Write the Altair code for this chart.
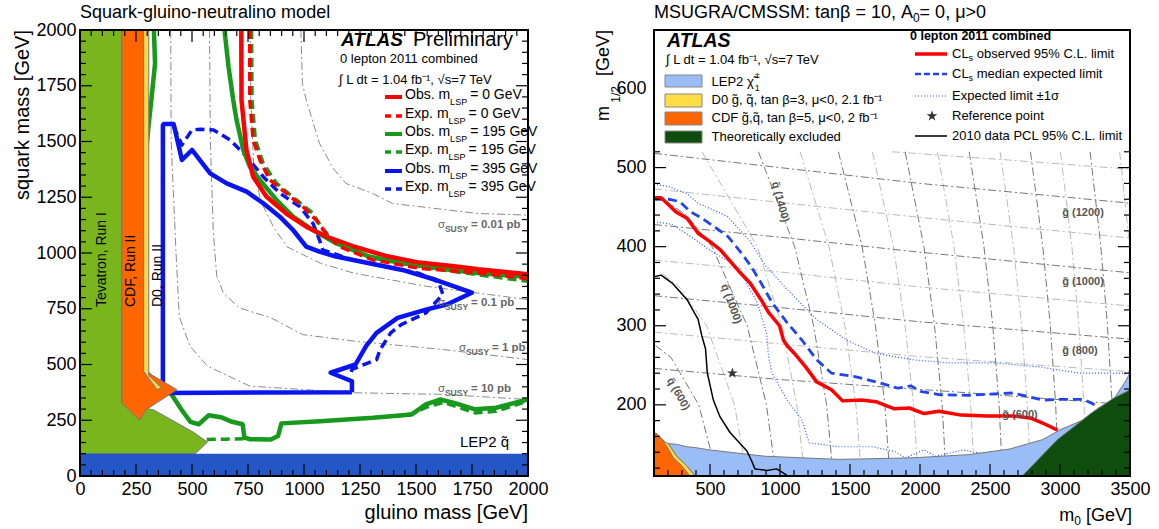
import altair as alt
import pandas as pd

FONT = "Liberation Sans"

# Arial / Liberation Sans advance widths (1/1000 em), used to place sub/superscripts
_ADV = {" ": 278, ".": 278, ",": 278, "-": 333, "/": 278, ":": 278, "=": 584, "[": 278, "]": 278,
        "%": 889, "<": 584, ">": 584, "±": 584,
        "A": 667, "C": 722, "D": 722, "E": 667, "F": 611, "G": 778, "L": 556, "M": 833, "O": 778,
        "P": 667, "R": 722, "S": 667, "T": 611, "U": 722, "V": 667, "Y": 667,
        "a": 556, "b": 556, "c": 500, "d": 556, "e": 556, "f": 278, "g": 556, "h": 556, "i": 222,
        "k": 500, "l": 222, "m": 833, "n": 556, "o": 556, "p": 556, "q": 556, "r": 333, "s": 500,
        "t": 278, "u": 556, "v": 500, "x": 500, "y": 500, "z": 500,
        "β": 575, "μ": 576, "χ": 525, "σ": 600, "\u0303": 0}


def tw(s, size):
    return sum(_ADV.get(c, 556) for c in s) * size / 1000.0


# ---------------------------------------------------------------- colours
RED, GREEN, BLUE = "#ff0000", "#16991c", "#0a14f0"
TEV_GREEN, CDF_ORANGE, D0_YELLOW, LEP_BAND = "#79b61d", "#ff6600", "#ffd84a", "#2456c6"
LEP_LIGHT, TH_GREEN = "#9abcf7", "#0e4d0e"
GRAY_DARK, GRAY_LIGHT = "#777777", "#bbbbbb"

# ================================================================ left panel data
# squark-gluino plane: x = gluino mass, y = squark mass (GeV)
red_obs_x = [720, 721, 743, 773, 832, 921, 1010, 1099, 1217, 1365, 1513, 1660, 1778, 1900, 2000]
red_obs_y = [2000, 1686, 1462, 1342, 1253, 1177, 1118, 1074, 1031, 987, 957, 942, 927, 915, 905]
red_exp_x = [758, 758, 773, 803, 847, 921, 995, 1054, 1099, 1158, 1306, 1513, 1778, 2000]
red_exp_y = [2000, 1686, 1507, 1417, 1328, 1268, 1208, 1148, 1089, 1029, 969, 932, 910, 885]

grn_obs_hi_x = [645, 663, 684, 699, 729, 758, 803, 877, 951, 1040, 1143, 1291, 1439, 1660, 1778, 2000]
grn_obs_hi_y = [2000, 1835, 1686, 1596, 1462, 1387, 1328, 1238, 1163, 1103, 1044, 984, 954, 924, 910, 893]
grn_exp_hi_x = [766, 768, 783, 818, 877, 966, 1040, 1084, 1143, 1306, 1513, 1778, 2000]
grn_exp_hi_y = [2000, 1686, 1507, 1402, 1313, 1238, 1178, 1104, 1044, 977, 939, 902, 873]
grn_obs_lo_x = [330, 335, 320, 305, 290, 290, 300, 314, 366, 411, 455, 493, 530, 574, 634, 679, 726,
                734, 760, 852, 884, 899, 1072, 1308, 1481, 1544, 1607, 1670, 1764, 1858, 2000]
grn_obs_lo_y = [2000, 1850, 1700, 1560, 1400, 500, 460, 446, 414, 362, 295, 243, 232, 272, 262, 243, 232,
                172, 165, 164, 179, 236, 246, 261, 276, 321, 343, 328, 299, 306, 343]
grn_exp_lo1_x = [566, 650, 734]
grn_exp_lo1_y = [164, 165, 167]
grn_exp_lo2_x = [1400, 1481, 1544, 1623, 1700, 1764, 1858, 2000]
grn_exp_lo2_y = [268, 278, 308, 330, 305, 283, 290, 336]

blu_obs_x = [1214, 800, 370, 370, 374, 418, 455, 500, 581, 655, 744, 818, 892, 951, 1010, 1069, 1143,
             1291, 1439, 1587, 1749, 1638, 1544, 1418, 1324, 1277, 1230, 1119, 1214, 1214]
blu_obs_y = [376, 374, 372, 1573, 1579, 1579, 1417, 1462, 1357, 1312, 1275, 1223, 1163, 1103, 1029, 1006, 984,
             954, 924, 880, 822, 769, 746, 709, 642, 582, 500, 463, 425, 376]
blu_exp_x = [418, 455, 500, 537, 596, 670, 744, 818, 892, 981, 1040, 1069, 1084, 1129, 1217, 1365, 1513,
             1600, 1620, 1544, 1434, 1387, 1340, 1324, 1214, 1206]
blu_exp_y = [1567, 1484, 1552, 1555, 1552, 1507, 1432, 1342, 1268, 1208, 1133, 1059, 1014, 999, 969, 939, 909,
             870, 815, 731, 679, 642, 567, 522, 478, 448]

# cross-section iso-lines
sig001_x = [986, 993, 1010, 1069, 1130, 1187, 1306, 1395, 1778, 2000]
sig001_y = [2000, 1760, 1686, 1492, 1380, 1312, 1267, 1222, 1177, 1170]
sig01_x = [760, 762, 775, 805, 863, 924, 1073, 1221, 1544, 2000]
sig01_y = [2000, 1700, 1400, 1238, 1118, 1028, 954, 910, 851, 791]
sig1_x = [578, 582, 595, 610, 640, 711, 853, 994, 1230, 1623, 2000]
sig1_y = [2000, 1500, 1100, 900, 820, 754, 709, 634, 604, 567, 522]
sig10_x = [405, 407, 428, 443, 491, 569, 758, 1230, 1623, 2000]
sig10_y = [2000, 1500, 1015, 716, 582, 493, 403, 373, 366, 343]

# excluded regions from earlier experiments (edges given as functions of squark mass)
lep_sq_x = [0, 2000]
lep_sq_y = [0, 100]
tev1_y = [100, 152, 197, 296, 327, 2000]
tev1_xl = [0, 0, 0, 0, 0, 0]
tev1_xr = [515, 569, 505, 330, 185, 185]
cdf_y = [250, 298, 327, 387, 473, 2000]
cdf_xl = [266, 217, 187, 187, 187, 187]
cdf_xr = [266, 296, 341, 433, 285, 285]
d0_y = [387, 396, 451, 470, 2000]
d0_xl = [344, 338, 298, 284, 284]
d0_xr = [344, 363, 307, 307, 307]

# ================================================================ right panel data
# mSUGRA plane: x = m0, y = m1/2 (GeV)
r_red_x = [100, 151, 204, 257, 336, 415, 495, 574, 706, 786, 865, 918, 997, 1024, 1050, 1103, 1183, 1262,
           1368, 1447, 1580, 1685, 1818, 1923, 2029, 2135, 2294, 2479, 2664, 2797, 2876, 2982]
r_red_y = [462, 462, 453, 444, 436, 417, 407, 396, 369, 354, 333, 317, 300, 282, 275, 265, 248, 229,
           219, 205, 206, 204, 195, 196, 189, 192, 187, 186, 186, 183, 177, 168]
r_exp_x = [100, 204, 283, 362, 442, 548, 627, 706, 786, 865, 944, 1050, 1156, 1262, 1368, 1527, 1685, 1844,
           1937, 2003, 2135, 2347, 2664, 2876, 3008, 3167, 3247]
r_exp_y = [460, 460, 457, 444, 436, 423, 413, 396, 377, 354, 329, 304, 282, 257, 240, 236, 229, 221,
           224, 217, 213, 212, 215, 206, 207, 207, 200]
r_up_x = [100, 204, 336, 415, 627, 786, 892, 1050, 1262, 1474, 1685, 1950, 2215, 2532, 2849, 3141, 3458, 3500]
r_up_y = [479, 476, 467, 455, 438, 407, 377, 346, 308, 282, 265, 257, 253, 253, 248, 240, 240, 240]
r_dn_x = [100, 230, 362, 495, 627, 733, 839, 905, 918, 944, 1050, 1156, 1209, 1421, 1659, 1818, 1897, 2029,
          2110, 2308, 2481]
r_dn_y = [432, 428, 413, 396, 382, 363, 329, 290, 261, 240, 206, 181, 152, 147, 147, 141, 133, 143,
          135, 143, 137]
r_pcl_x = [100, 151, 230, 336, 415, 442, 468, 481, 524, 571, 643, 762, 798, 821, 905, 976, 1048]
r_pcl_y = [362, 364, 354, 333, 308, 287, 271, 240, 206, 185, 165, 142, 129, 119, 117, 119, 111]
ref_point_x = [660]
ref_point_y = [240]

r_cdf_x = [100, 125, 155, 190, 238, 298, 357]
r_cdf_y = [165, 163, 157, 148, 133, 123, 110]
r_d0_x = [150, 180, 202, 262, 333, 393]
r_d0_y = [158, 153, 151, 135, 123, 110]
r_lep_x = [202, 262, 333, 393, 495, 892, 1421, 1950, 2347, 2638, 2876, 3008, 3167, 3273, 3379, 3458, 3500]
r_lep_top = [151, 150, 147, 146, 143, 135, 131, 133, 137, 144, 156, 169, 181, 196, 206, 227, 240]
r_lep_bot = [151, 135, 123, 110, 110, 110, 110, 110, 110, 110, 110, 110, 110, 110, 110, 110, 110]
r_th_x = [2730, 2982, 3220, 3379, 3500]
r_th_y = [110, 156, 189, 208, 219]

# gluino iso-mass lines (labelled ones dark)
gl_dark = {
    "600": ([100, 1000, 2200, 3500], [246, 232, 217, 200]),
    "800": ([100, 1000, 2000, 3500], [338, 323, 305, 283]),
    "1000": ([100, 1000, 2000, 3500], [428, 412, 393, 367]),
    "1200": ([100, 1000, 2000, 3500], [518, 500, 480, 455]),
}
gl_light = {
    "700": ([100, 1000, 2000, 3500], [292, 277, 261, 242]),
    "900": ([100, 1000, 2000, 3500], [383, 368, 349, 325]),
    "1100": ([100, 1000, 2000, 3500], [473, 456, 437, 411]),
    "1300": ([1800, 2600, 3500], [520, 510, 498]),
}
# squark iso-mass lines
sq_y = [520, 400, 300, 200, 110]
sq_dark = {
    "600": ([110, 221, 420, 552], [275, 260, 200, 110]),
    "1000": ([163, 331, 514, 766, 903, 972], [460, 440, 400, 300, 200, 110]),
    "1400": ([846, 1105, 1240, 1333, 1380], sq_y),
    "1800": ([1417, 1587, 1682, 1749, 1785], sq_y),
    "2200": ([1894, 2028, 2104, 2158, 2187], sq_y),
    "2600": ([2351, 2457, 2520, 2565, 2589], sq_y),
    "3000": ([2789, 2877, 2931, 2969, 2991], sq_y),
    "3400": ([3215, 3292, 3339, 3373, 3392], sq_y),
}
sq_light = {
    "800": ([165, 277, 476, 675, 764], [365, 350, 300, 200, 110]),
    "1200": ([443, 839, 1013, 1120, 1177], sq_y),
    "1600": ([1143, 1350, 1463, 1542, 1583], sq_y),
    "2000": ([1660, 1810, 1894, 1954, 1986], sq_y),
    "2400": ([2125, 2243, 2312, 2362, 2388], sq_y),
    "2800": ([2572, 2668, 2726, 2767, 2790], sq_y),
    "3200": ([3003, 3085, 3135, 3171, 3191], sq_y),
    "3600": ([3426, 3498, 3542, 3574, 3592], sq_y),
}

# ================================================================ helpers
ONE = pd.DataFrame({"k": [0]})
DASHDOT = [8, 3, 2, 3]


def curve(xs, ys, X, Y, color, width, dash=None):
    df = pd.DataFrame({"x": xs, "y": ys, "i": list(range(len(xs)))})
    kw = dict(color=color, strokeWidth=width, clip=True, strokeJoin="round")
    if dash:
        kw["strokeDash"] = dash
    return alt.Chart(df).mark_line(**kw).encode(x=X, y=Y, order=alt.Order("i:Q"))


def hband(ys, xl, xr, X, Y, color):
    # horizontal area: y is the running coordinate, x..x2 the filled span
    df = pd.DataFrame({"y": ys, "x": xl, "x2": xr})
    return alt.Chart(df).mark_area(orient="horizontal", color=color, stroke="#777777", strokeWidth=1,
                                   clip=True).encode(y=Y, x=X, x2=alt.X2("x2:Q"))


def vband(xs, ytop, ybot, X, Y, color):
    df = pd.DataFrame({"x": xs, "y": ytop, "y2": ybot})
    return alt.Chart(df).mark_area(color=color, stroke="#777777", strokeWidth=1,
                                   clip=True).encode(x=X, y=Y, y2=alt.Y2("y2:Q"))


def label(s, x, y, size=13, color="black", weight="normal", style="normal", align="left",
          baseline="middle", angle=0):
    return alt.Chart(ONE).mark_text(text=s, font=FONT, fontSize=size, color=color, fontWeight=weight,
                                    fontStyle=style, align=align, baseline=baseline, angle=angle
                                    ).encode(x=alt.value(x), y=alt.value(y))


def sample(x1, x2, y, color, width, dash=None):
    kw = dict(color=color, strokeWidth=width)
    if dash:
        kw["strokeDash"] = dash
    return alt.Chart(ONE).mark_rule(**kw).encode(x=alt.value(x1), x2=alt.value(x2), y=alt.value(y))


def box(x1, x2, y1, y2, fill):
    return alt.Chart(ONE).mark_rect(fill=fill, stroke="#888888", strokeWidth=1).encode(
        x=alt.value(x1), x2=alt.value(x2), y=alt.value(y1), y2=alt.value(y2))


def frame(W, H):
    return alt.Chart(ONE).mark_rect(fill="transparent", stroke="black", strokeWidth=2).encode(
        x=alt.value(0), x2=alt.value(W), y=alt.value(0), y2=alt.value(H))


def ticks(X, Y, W, H, xmaj, xmin, ymaj, ymin, top=True):
    out = []
    for vals, L in ((xmaj, 12), (xmin, 6)):
        d = pd.DataFrame({"x": vals})
        out.append(alt.Chart(d).mark_rule(color="black", strokeWidth=1.2).encode(
            x=X, y=alt.value(H), y2=alt.value(H - L)))
        if top:
            out.append(alt.Chart(d).mark_rule(color="black", strokeWidth=1.2).encode(
                x=X, y=alt.value(0), y2=alt.value(L)))
    for vals, L in ((ymaj, 12), (ymin, 6)):
        d = pd.DataFrame({"y": vals})
        out.append(alt.Chart(d).mark_rule(color="black", strokeWidth=1.2).encode(
            y=Y, x=alt.value(0), x2=alt.value(L)))
        out.append(alt.Chart(d).mark_rule(color="black", strokeWidth=1.2).encode(
            y=Y, x=alt.value(W), x2=alt.value(W - L)))
    return out


AXIS = dict(title=None, ticks=False, domain=False, grid=False, labelFont=FONT, labelFontSize=18,
            labelColor="black", labelFlush=False, labelOverlap=False, format="d")

# ================================================================ left panel
LW, LH = 448, 446
LX = alt.X("x:Q", scale=alt.Scale(domain=[0, 2000], nice=False, zero=False),
           axis=alt.Axis(values=list(range(0, 2001, 250)), labelPadding=4, **AXIS))
LY = alt.Y("y:Q", scale=alt.Scale(domain=[0, 2000], nice=False, zero=False),
           axis=alt.Axis(values=list(range(0, 2001, 250)), labelPadding=4, **AXIS))

L = []
for xs, ys in ((sig001_x, sig001_y), (sig01_x, sig01_y), (sig1_x, sig1_y), (sig10_x, sig10_y)):
    L.append(curve(xs, ys, LX, LY, "#8a8a8a", 1, DASHDOT))
L += [
    curve(grn_obs_lo_x, grn_obs_lo_y, LX, LY, GREEN, 4.5),
    curve(grn_exp_lo1_x, grn_exp_lo1_y, LX, LY, GREEN, 3.5, [9, 5]),
    curve(grn_exp_lo2_x, grn_exp_lo2_y, LX, LY, GREEN, 3.5, [9, 5]),
    curve(blu_obs_x, blu_obs_y, LX, LY, BLUE, 4.5),
    curve(blu_exp_x, blu_exp_y, LX, LY, BLUE, 3.5, [9, 5]),
    curve(grn_obs_hi_x, grn_obs_hi_y, LX, LY, GREEN, 4.5),
    curve(red_obs_x, red_obs_y, LX, LY, RED, 4.5),
    curve(grn_exp_hi_x, grn_exp_hi_y, LX, LY, GREEN, 3.5, [9, 5]),
    curve(red_exp_x, red_exp_y, LX, LY, RED, 3.5, [9, 5]),
]
L.append(hband(tev1_y, tev1_xl, tev1_xr, LX, LY, TEV_GREEN))
L.append(hband(cdf_y, cdf_xl, cdf_xr, LX, LY, CDF_ORANGE))
L.append(hband(d0_y, d0_xl, d0_xr, LX, LY, D0_YELLOW))
L.append(alt.Chart(pd.DataFrame({"x": [lep_sq_x[0]], "x2": [lep_sq_x[1]], "y": [lep_sq_y[0]],
                                 "y2": [lep_sq_y[1]]})).mark_rect(fill=LEP_BAND).encode(
    x=LX, x2=alt.X2("x2:Q"), y=LY, y2=alt.Y2("y2:Q")))

L += ticks(LX, LY, LW, LH, list(range(0, 2001, 250)), [v for v in range(0, 2001, 50) if v % 250],
           list(range(0, 2001, 250)), [v for v in range(0, 2001, 50) if v % 250])
L.append(frame(LW, LH))

# region labels
L.append(label("Tevatron, Run I", 22.4, 277, 14, angle=270))
L.append(label("CDF, Run II", 50.6, 277, 14, angle=270))
L.append(label("D0, Run II", 78.2, 277, 14, angle=270))
L.append(label("LEP2  q\u0303", 380, 412, 15))

# cross-section labels
for val, sx, sy in (("0.01", 358, 195), ("0.1", 358, 273), ("1", 379, 318), ("10", 358, 359)):
    L.append(label("σ", sx, sy, 11.5, "#666666"))
    L.append(label("SUSY", sx + tw("σ", 11.5), sy + 4, 8.5, "#666666", "bold"))
    L.append(label("= " + val + " pb", sx + tw("σ", 11.5) + tw("SUSY", 8.5) + 3, sy, 11.5, "#666666", "bold"))

# legend block
L.append(label("ATLAS", 261, 16, 19, weight="bold", style="italic", baseline="alphabetic"))
L.append(label("Preliminary", 333, 16, 20, baseline="alphabetic"))
L.append(label("0 lepton 2011 combined", 260, 33, 13, baseline="alphabetic"))
L.append(label("∫ L dt = 1.04 fb⁻¹, √s=7 TeV", 259, 54, 13, baseline="alphabetic"))

leg_y = [67, 86, 104, 122, 141, 159]
leg_kind = ["Obs.", "Exp.", "Obs.", "Exp.", "Obs.", "Exp."]
leg_mass = ["0", "0", "195", "195", "395", "395"]
leg_col = [RED, RED, GREEN, GREEN, BLUE, BLUE]
for yy, kind, mass, col in zip(leg_y, leg_kind, leg_mass, leg_col):
    if kind == "Obs.":
        L.append(sample(305, 322, yy, col, 4))
    else:
        L.append(sample(305, 322, yy, col, 3.5, [6, 5]))
    pre = kind + " m"
    L.append(label(pre, 325, yy - 2, 14))
    L.append(label("LSP", 325 + tw(pre, 14), yy + 5, 9))
    L.append(label("= " + mass + " GeV", 325 + tw(pre, 14) + tw("LSP", 9) + 3, yy - 2, 14))

# titles
L.append(label("Squark-gluino-neutralino model", 0, -17, 18))
L.append(label("gluino mass [GeV]", LW, 483, 20, align="right"))
L.append(label("squark mass [GeV]", -57.5, 0, 20, align="right", angle=270))

left = alt.layer(*L).properties(width=LW, height=LH)

# ================================================================ right panel
RW, RH = 476, 446
RX = alt.X("x:Q", scale=alt.Scale(domain=[100, 3500], nice=False, zero=False),
           axis=alt.Axis(values=list(range(500, 3501, 500)), labelPadding=4, **AXIS))
RY = alt.Y("y:Q", scale=alt.Scale(domain=[110, 674], nice=False, zero=False),
           axis=alt.Axis(values=[200, 300, 400, 500, 600], labelPadding=8, **AXIS))

R = []
for xs, ys in gl_light.values():
    R.append(curve(xs, ys, RX, RY, GRAY_LIGHT, 1, DASHDOT))
for xs, ys in sq_light.values():
    R.append(curve(xs, ys, RX, RY, GRAY_LIGHT, 1, DASHDOT))
for xs, ys in gl_dark.values():
    R.append(curve(xs, ys, RX, RY, GRAY_DARK, 1, DASHDOT))
for xs, ys in sq_dark.values():
    R.append(curve(xs, ys, RX, RY, GRAY_DARK, 1, DASHDOT))
R += [
    curve(r_up_x, r_up_y, RX, RY, "#3355ff", 1.2, [1, 2]),
    curve(r_dn_x, r_dn_y, RX, RY, "#3355ff", 1.2, [1, 2]),
    curve(r_exp_x, r_exp_y, RX, RY, "#2244ee", 2.8, [9, 5]),
    curve(r_red_x, r_red_y, RX, RY, RED, 3.5),
]
R.append(vband(r_lep_x, r_lep_top, r_lep_bot, RX, RY, LEP_LIGHT))
R.append(vband(r_d0_x, r_d0_y, [110] * len(r_d0_x), RX, RY, D0_YELLOW))
R.append(vband(r_cdf_x, r_cdf_y, [110] * len(r_cdf_x), RX, RY, CDF_ORANGE))
R.append(vband(r_th_x, r_th_y, [110] * len(r_th_x), RX, RY, TH_GREEN))
R.append(curve(r_pcl_x, r_pcl_y, RX, RY, "black", 1.5))

STAR = ("M 0 -1 L 0.2245 -0.309 L 0.951 -0.309 L 0.363 0.118 L 0.588 0.809 L 0 0.382 "
        "L -0.588 0.809 L -0.363 0.118 L -0.951 -0.309 L -0.2245 -0.309 Z")
R.append(alt.Chart(pd.DataFrame({"x": ref_point_x, "y": ref_point_y})).mark_point(
    shape=STAR, filled=True, color="#333333", size=130, opacity=1).encode(x=RX, y=RY))

R += ticks(RX, RY, RW, RH, list(range(500, 3501, 500)), [v for v in range(100, 3501, 100) if v % 500],
           [200, 300, 400, 500], [v for v in range(120, 521, 20) if v % 100], top=False)
R.append(frame(RW, RH))

# iso-mass labels
for txt, px, py in (("g\u0303 (1200)", 429, 183), ("g\u0303 (1000)", 429, 252),
                    ("g\u0303 (800)", 426, 321), ("g\u0303 (600)", 366, 385)):
    R.append(label(txt, px, py, 11, "#555555", "bold", align="center"))
for txt, px, py, ang in (("q\u0303 (1400)", 126, 172, 75), ("q\u0303 (1000)", 77, 274, 70),
                         ("q\u0303 (600)", 24, 364, 60)):
    R.append(label(txt, px, py, 11, "#555555", "bold", align="center", angle=ang))

# legend
R.append(label("ATLAS", 13, 17, 19.5, weight="bold", style="italic", baseline="alphabetic"))
R.append(label("∫ L dt = 1.04 fb⁻¹, √s=7 TeV", 12, 30, 13))
R.append(box(11, 48, 45, 57, LEP_LIGHT))
R.append(box(11, 48, 64, 77, "#ffdd44"))
R.append(box(11, 48, 82, 95, CDF_ORANGE))
R.append(box(11, 48, 101, 113, TH_GREEN))
R.append(label("LEP2 χ\u0303", 57.5, 52, 13))
R.append(label("±", 57.5 + tw("LEP2 χ", 13) + 1, 45, 9))
R.append(label("1", 57.5 + tw("LEP2 χ", 13) + 1, 58, 9))
R.append(label("D0 g\u0303, q\u0303, tan β=3, μ<0, 2.1 fb⁻¹", 57.5, 70, 13))
R.append(label("CDF g\u0303,q\u0303, tan β=5, μ<0, 2 fb⁻¹", 57.5, 88, 13))
R.append(label("Theoretically excluded", 57.5, 107, 13))

R.append(label("0 lepton 2011 combined", 256, 6, 12.5, weight="bold"))
R.append(sample(261, 293, 24, RED, 3.5))
R.append(sample(261, 293, 44, "#2244ee", 2.5, [6, 3]))
R.append(sample(261, 293, 66, "#3355ff", 1.2, [1, 2]))
R.append(alt.Chart(ONE).mark_point(shape=STAR, filled=True, color="#333333", size=130, opacity=1).encode(
    x=alt.value(278), y=alt.value(86)))
R.append(sample(261, 293, 106, "black", 1.5))
for yy, rest in ((24, "observed 95% C.L. limit"), (44, "median expected limit")):
    R.append(label("CL", 298, yy, 13))
    R.append(label("s", 298 + tw("CL", 13), yy + 4, 9))
    R.append(label(rest, 298 + tw("CL", 13) + tw("s", 9) + tw(" ", 13), yy, 13))
R.append(label("Expected limit ±1σ", 298, 66, 13))
R.append(label("Reference point", 298, 86, 13))
R.append(label("2010 data PCL 95% C.L. limit", 298, 106, 13))

# titles
t1 = "MSUGRA/CMSSM: tanβ = 10, A"
R.append(label(t1, 0, -17, 18))
R.append(label("0", tw(t1, 18), -12, 12))
R.append(label("= 0, μ>0", tw(t1, 18) + tw("0", 12), -17, 18))

xt_end = RW + 2
R.append(label("[GeV]", xt_end, 486, 18, align="right"))
sub_end = xt_end - tw(" [GeV]", 18)
R.append(label("0", sub_end, 491, 12, align="right"))
R.append(label("m", sub_end - tw("0", 12), 486, 18, align="right"))

R.append(label("[GeV]", -50, 0, 18, align="right", angle=270))
R.append(label("1/2", -38, 56, 12, align="right", angle=270))
R.append(label("m", -50, 76, 18, align="right", angle=270))

right = alt.layer(*R).properties(width=RW, height=RH)

chart = alt.hconcat(left, right, spacing=126, bounds="flush").properties(
    padding={"left": 12, "top": 4, "right": 5, "bottom": 2}, background="white"
).configure_view(strokeWidth=0)

chart.save("out.html", embed_options={"renderer": "svg", "actions": False})
